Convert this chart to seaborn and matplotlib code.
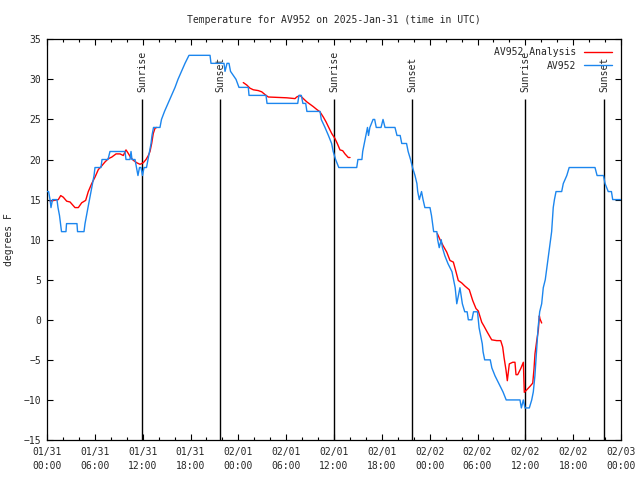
import pandas as pd
import matplotlib
matplotlib.use("Agg")
import matplotlib.pyplot as plt
import matplotlib.dates as mdates
import seaborn as sns

# hours since 2025-01-31 00:00 UTC
obs_hours = [0.0, 0.2, 0.38, 0.5, 0.69, 1.25, 1.38, 1.57, 1.69, 1.82, 2.38, 2.45, 3.76, 3.83,
             4.64, 4.77, 4.95, 5.14, 5.33, 5.52, 5.71, 5.9, 6.02, 6.77, 6.9, 7.65, 7.9, 9.78,
             9.91, 10.41, 10.54, 10.66, 11.04, 11.23, 11.41, 11.6, 11.79, 11.98, 12.17, 12.48,
             12.67, 12.86, 13.05, 13.17, 13.36, 14.17, 14.36, 14.74, 15.18, 15.62, 16.06, 16.43,
             16.87, 17.31, 17.81, 20.45, 20.57, 22.2, 22.33, 22.58, 22.83, 23.02, 23.71, 24.08,
             25.25, 25.34, 27.47, 27.6, 31.45, 31.6, 31.9, 32.1, 32.45, 32.6, 34.25, 34.4, 34.87,
             35.3, 35.7, 35.9, 36.2, 36.6, 38.85, 39.0, 39.5, 39.6, 39.8, 40.0, 40.2, 40.33, 40.5,
             40.9, 41.1, 41.3, 41.9, 42.15, 42.4, 43.65, 43.9, 44.3, 44.5, 45.1, 45.3, 45.6,
             45.85, 46.16, 46.4, 46.5, 46.7, 46.98, 47.17, 47.4, 48.04, 48.23, 48.36, 48.5, 48.9,
             49.0, 49.2, 49.45, 49.6, 49.9, 50.3, 50.8, 51.0, 51.2, 51.3, 51.4, 51.6, 51.8, 51.95,
             52.1, 52.4, 52.7, 52.85, 53.3, 53.5, 54.0, 54.1, 54.2, 54.4, 54.6, 54.7, 54.9, 55.6,
             55.8, 56.2, 56.7, 57.2, 57.6, 59.33, 59.5, 59.75, 59.96, 60.5, 60.8, 61.0, 61.2,
             61.4, 61.6, 61.8, 62.05, 62.25, 62.5, 62.9, 63.3, 63.5, 63.65, 63.85, 64.56, 64.76,
             65.2, 65.5, 68.74, 69.0, 69.8, 70.0, 70.4, 70.8, 70.96, 72.0]
obs_temps = [16, 16, 15, 14, 15, 15, 14, 13, 12, 11, 11, 12, 12, 11,
             11, 12, 13, 14, 15, 16, 17, 18, 19, 19, 20, 20, 21, 21,
             20, 20, 21, 20, 20, 19, 18, 19, 19, 18, 19, 19,
             20, 21, 22, 23, 24, 24, 25, 26, 27, 28, 29, 30,
             31, 32, 33, 33, 32, 32, 31, 32, 32, 31, 30, 29,
             29, 28, 28, 27, 27, 28, 28, 27, 27, 26, 26, 25, 24,
             23, 22, 21, 20, 19, 19, 20, 20, 21, 22, 23, 24, 23, 24,
             25, 25, 24, 24, 25, 24, 24, 23, 23, 22, 22, 21, 20,
             19, 18, 17, 16, 15, 16, 15, 14, 14, 13, 12, 11, 11,
             10, 9, 10, 9, 8, 7, 6, 5, 4, 3, 2, 3, 4, 3,
             2, 1, 1, 0, 0, 1, 1, 0, -1, -2, -3, -4, -5, -5,
             -6, -7, -8, -9, -10, -10, -11, -10, -11, -11, -10, -9, -7,
             -4, -1, 1, 2, 4, 5, 8, 11, 14, 15, 16, 16, 17,
             18, 19, 19, 18, 18, 17, 16, 16, 15, 15]

# analysis: three separate pieces
ana_hours_1 = [0.38, 1.42, 1.72, 2.04, 2.47, 2.89, 3.51, 3.93, 4.35, 4.85, 5.18, 5.61, 6.02,
               6.44, 6.86, 7.28, 7.69, 8.12, 8.66, 9.16, 9.57, 9.91, 10.2, 10.5, 10.83, 11.25,
               11.67, 12.08, 12.42, 12.71, 12.92, 13.13, 13.33, 13.55, 13.76]
ana_temps_1 = [14.8, 15.0, 15.5, 15.3, 14.8, 14.7, 14.0, 14.0, 14.6, 14.9, 16.0, 17.0, 17.8,
               18.75, 19.2, 19.7, 20.1, 20.3, 20.7, 20.7, 20.5, 21.2, 20.75, 20.25, 19.9, 19.6,
               19.4, 19.6, 20.0, 20.5, 21.0, 22.0, 23.25, 23.9, 24.0]
ana_hours_2 = [24.62, 25.05, 25.46, 25.88, 26.5, 26.93, 27.35, 27.76, 30.07, 31.11, 31.32,
               31.74, 32.15, 32.58, 32.99, 33.4, 33.83, 34.24, 34.66, 35.0, 35.29, 35.71, 36.13,
               36.41, 36.75, 37.09, 37.38, 37.79, 38.01]
ana_temps_2 = [29.6, 29.3, 28.9, 28.7, 28.6, 28.45, 28.1, 27.8, 27.7, 27.6, 27.8,
               28.0, 27.6, 27.2, 26.9, 26.6, 26.25, 25.95, 25.3, 24.7, 24.1, 23.25, 22.6,
               22.0, 21.2, 21.1, 20.7, 20.25, 20.25]
ana_hours_3 = [48.96, 49.3, 49.71, 50.14, 50.55, 50.97, 51.3, 51.59, 52.02, 52.43, 52.97, 53.4,
               53.81, 54.1, 54.53, 54.82, 55.23, 55.78, 56.41, 56.91, 57.16, 57.33, 57.58, 57.74,
               57.99, 58.42, 58.7, 58.83, 59.04, 59.42, 59.75, 59.87, 60.17, 60.59, 60.93, 61.09,
               61.21, 61.43, 61.63, 61.76, 61.84, 62.05]
ana_temps_3 = [10.75, 10.0, 9.2, 8.45, 7.4, 7.2, 6.0, 4.9, 4.6, 4.2, 3.75, 2.4,
               1.4, 1.1, -0.3, -0.8, -1.55, -2.5, -2.6, -2.6, -3.4, -4.7, -6.3, -7.6,
               -5.5, -5.3, -5.3, -6.85, -6.85, -6.1, -5.3, -9.05, -8.75, -8.3, -7.9, -6.1,
               -4.25, -2.6, -1.3, 0.5, 0.1, -0.4]

sunrise_hours = [11.95, 36.0, 60.0]
sunset_hours = [21.75, 45.8, 69.9]

start = pd.Timestamp("2025-01-31 00:00")
to_time = lambda hrs: start + pd.to_timedelta(hrs, unit="h")

obs = pd.DataFrame({"time": to_time(obs_hours), "temp": obs_temps})
ana = pd.concat([
    pd.DataFrame({"time": to_time(h), "temp": t, "seg": i})
    for i, (h, t) in enumerate([(ana_hours_1, ana_temps_1),
                                (ana_hours_2, ana_temps_2),
                                (ana_hours_3, ana_temps_3)])
])

sns.set_style("ticks")
plt.rcParams["font.family"] = ["DejaVu Sans Mono"]
plt.rcParams["font.size"] = 7

fig = plt.figure(figsize=(6.4, 4.8), dpi=100)
ax = fig.add_axes([47 / 640, 40 / 480, 574 / 640, 400.7 / 480])

for h in sunrise_hours + sunset_hours:
    ax.vlines(to_time(h), -15, 27.5, color="black", lw=1, zorder=1)
for h in sunrise_hours:
    ax.text(to_time(h), 28.4, "Sunrise", rotation=90, ha="center", va="bottom")
for h in sunset_hours:
    ax.text(to_time(h), 28.4, "Sunset", rotation=90, ha="center", va="bottom")

sns.lineplot(data=ana, x="time", y="temp", units="seg", estimator=None,
             color="#ff0000", lw=1, ax=ax, label="AV952 Analysis", zorder=2)
sns.lineplot(data=obs, x="time", y="temp", color="#1c86ee", lw=1, ax=ax,
             label="AV952", zorder=3)

ax.set_xlim(start, start + pd.Timedelta(hours=72))
ax.set_ylim(-15, 35)
ax.set_yticks(range(-15, 36, 5))
ax.xaxis.set_major_locator(mdates.HourLocator(byhour=[0, 6, 12, 18]))
ax.xaxis.set_minor_locator(mdates.HourLocator(byhour=range(0, 24, 2)))
ax.xaxis.set_major_formatter(mdates.DateFormatter("%m/%d\n%H:%M"))
ax.tick_params(which="both", direction="in", top=True, right=True, color="black")
ax.tick_params(which="major", length=4.5, width=0.8, labelsize=7)
ax.tick_params(axis="x", which="major", pad=5)
ax.tick_params(axis="y", which="major", pad=4)
ax.tick_params(which="minor", length=2.5, width=0.8)
for lbl in ax.get_xticklabels():
    lbl.set_linespacing(1.45)
for s in ax.spines.values():
    s.set_color("black")
    s.set_linewidth(0.9)

ax.set_xlabel("")
ax.set_ylabel("degrees F", fontsize=7)
ax.yaxis.set_label_coords(-0.058, 0.5)
ax.set_title("Temperature for AV952 on 2025-Jan-31 (time in UTC)", fontsize=7, pad=12)

# one legend entry per series (units give one handle per segment)
handles, labels = ax.get_legend_handles_labels()
uniq = {}
for h, l in zip(handles, labels):
    uniq.setdefault(l, h)
ax.legend(list(uniq.values()), list(uniq.keys()), loc="upper right",
          bbox_to_anchor=(0.985, 0.98), markerfirst=False,
          frameon=False, fontsize=7, handlelength=2.9, handletextpad=0.8,
          labelspacing=0.35, borderaxespad=0, borderpad=0)

fig.savefig("out.png", dpi=100)
